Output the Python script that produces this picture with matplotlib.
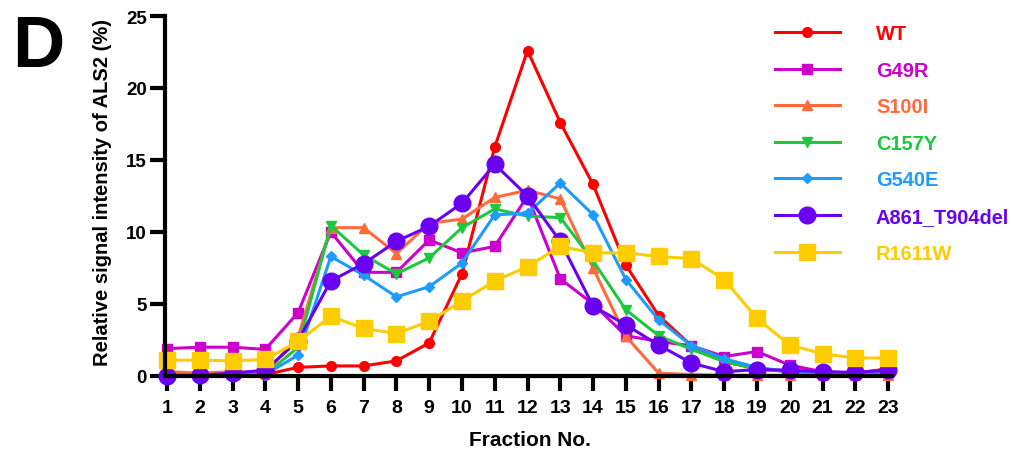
import matplotlib
matplotlib.use("Agg")
import matplotlib.pyplot as plt
import numpy as np

fractions = list(range(1, 24))
series_names = ["WT", "G49R", "S100I", "C157Y", "G540E", "A861_T904del", "R1611W"]

WT = [0.1, 0.05, 0.1, 0.1, 0.6, 0.7, 0.7, 1.05, 2.3, 7.1, 15.9, 22.6, 17.6, 13.3, 7.7, 4.2, 2.1, 1.0, 0.5, 0.3, 0.15, 0.2, 0.5]
G49R = [1.9, 2.0, 2.0, 1.85, 4.4, 10.0, 7.2, 7.2, 9.45, 8.55, 9.0, 12.5, 6.75, 5.0, 2.8, 2.4, 2.1, 1.35, 1.7, 0.75, 0.3, 0.2, 0.3]
S100I = [0.3, 0.2, 0.3, 0.2, 2.7, 10.3, 10.3, 8.5, 10.6, 10.9, 12.4, 12.9, 12.3, 7.5, 2.75, 0.2, 0.1, 0.05, 0.05, 0.05, 0.05, 0.05, 0.05]
C157Y = [0.1, 0.05, 0.1, 0.1, 2.0, 10.45, 8.4, 7.1, 8.2, 10.3, 11.6, 11.1, 11.0, 8.0, 4.6, 2.8, 1.85, 1.0, 0.5, 0.3, 0.2, 0.2, 0.4]
G540E = [0.1, 0.05, 0.1, 0.1, 1.45, 8.3, 7.0, 5.5, 6.2, 7.85, 11.2, 11.3, 13.4, 11.2, 6.7, 3.9, 2.1, 1.2, 0.6, 0.3, 0.2, 0.2, 0.3]
A861_T904del = [0.0, 0.05, 0.2, 0.4, 2.45, 6.6, 7.8, 9.35, 10.4, 12.0, 14.7, 12.5, 9.35, 4.85, 3.55, 2.15, 0.9, 0.3, 0.45, 0.4, 0.3, 0.25, 0.4]
R1611W = [1.1, 1.1, 1.05, 1.15, 2.4, 4.15, 3.3, 2.95, 3.8, 5.2, 6.6, 7.6, 9.0, 8.55, 8.55, 8.3, 8.15, 6.7, 4.0, 2.15, 1.55, 1.25, 1.25]

y_ticks = [0, 5, 10, 15, 20, 25]

series = [WT, G49R, S100I, C157Y, G540E, A861_T904del, R1611W]
colors = ["#ff0000", "#cc00cc", "#ff6b3d", "#1ec83c", "#1e9bff", "#6a00f0", "#ffcc00"]
markers = ["o", "s", "^", "v", "D", "o", "s"]
msizes = [7, 7, 7, 7, 5, 12, 12]

W, H = 1012, 456
fig = plt.figure(figsize=(W / 100, H / 100), dpi=100)
ax = fig.add_axes([165 / W, 1 - 377 / H, (892 - 165) / W, (377 - 17) / H])

for name, vals, c, m, ms in zip(series_names, series, colors, markers, msizes):
    ax.plot(fractions, vals, color=c, marker=m, markersize=ms, linewidth=2.2,
            markerfacecolor=c, markeredgecolor=c, label=name, clip_on=False)

ax.set_xlim(0.94, 23.12)
ax.set_ylim(0, 25)
ax.set_xticks(fractions)
ax.set_yticks(y_ticks)

for s in ["top", "right"]:
    ax.spines[s].set_visible(False)
for s in ["left", "bottom"]:
    ax.spines[s].set_linewidth(3)

reg = ["Liberation Sans", "DejaVu Sans"]

ax.tick_params(axis="both", width=3, length=11, direction="out")
ax.tick_params(axis="x", pad=5.5)
ax.tick_params(axis="y", pad=2)
for lab in ax.get_xticklabels():
    lab.set_fontfamily(reg)
    lab.set_fontweight("bold")
    lab.set_fontsize(14)
for lab in ax.get_yticklabels():
    lab.set_fontfamily(reg)
    lab.set_fontweight("bold")
    lab.set_fontsize(13.5)

ax.set_xlabel("Fraction No.", family=reg, fontweight="bold", fontsize=15)
ax.xaxis.set_label_coords((530 - 165) / 727, -(441 - 377) / 360)
ax.xaxis.label.set_va("center")
ax.set_ylabel("Relative signal intensity of ALS2 (%)", family=reg, fontweight="bold", fontsize=14.5)
ax.yaxis.set_label_coords((103 - 165) / 727, (377 - 192) / 360)
ax.yaxis.label.set_va("center")

fig.text(12 / W, 1 - 14 / H, "D", family=reg, fontweight="bold", fontsize=52, ha="left", va="top")

leg = fig.legend(loc="upper left", bbox_to_anchor=(775 / W, 1 - 25 / H), frameon=False,
                 labelcolor="linecolor", prop={"family": reg, "weight": "bold", "size": 14.4},
                 handlelength=3.25, handletextpad=1.8, labelspacing=0.88, borderpad=0, borderaxespad=0,
                 markerscale=1.0)

fig.savefig("out.png", dpi=100)
